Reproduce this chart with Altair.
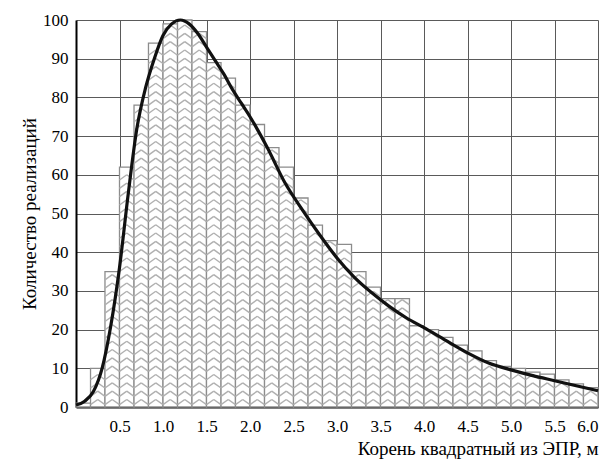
import altair as alt
import pandas as pd

# Histogram bins (width 1/6 m) and counts
bin_start = [0.000, 0.167, 0.333, 0.500, 0.667, 0.833, 1.000, 1.167, 1.333, 1.500, 1.667, 1.833,
             2.000, 2.167, 2.333, 2.500, 2.667, 2.833, 3.000, 3.167, 3.333, 3.500, 3.667, 3.833,
             4.000, 4.167, 4.333, 4.500, 4.667, 4.833, 5.000, 5.167, 5.333, 5.500, 5.667, 5.833]
bin_end = [0.167, 0.333, 0.500, 0.667, 0.833, 1.000, 1.167, 1.333, 1.500, 1.667, 1.833, 2.000,
           2.167, 2.333, 2.500, 2.667, 2.833, 3.000, 3.167, 3.333, 3.500, 3.667, 3.833, 4.000,
           4.167, 4.333, 4.500, 4.667, 4.833, 5.000, 5.167, 5.333, 5.500, 5.667, 5.833, 6.000]
counts = [1, 10, 35, 62, 78, 94, 99, 100, 97, 89, 85, 78,
          73, 67, 62, 54, 47, 43, 42, 35, 31, 28, 28, 21,
          20, 18, 16, 14.5, 12, 10.5, 10, 9, 8.5, 7, 6, 5]

# Smooth fitted curve
curve_x = [0.00, 0.10, 0.20, 0.30, 0.40, 0.50, 0.60, 0.70, 0.80, 0.90, 1.00, 1.10, 1.20,
           1.30, 1.40, 1.50, 1.60, 1.70, 1.80, 1.90, 2.00, 2.20, 2.40, 2.60, 2.80, 3.00,
           3.20, 3.40, 3.60, 3.80, 4.00, 4.25, 4.50, 4.75, 5.00, 5.25, 5.50, 5.75, 6.00]
curve_y = [0.5, 1.5, 4, 10, 21, 36, 55, 72, 82.5, 90, 96, 99, 100,
           99, 96.5, 93, 89.5, 86, 82, 78.5, 75, 67, 58, 51, 44.5, 38.5,
           33.5, 29.5, 26, 23, 20.5, 17.2, 14, 11.3, 9.6, 8.1, 6.8, 5.5, 4.2]

x_ticks = [0.5, 1.0, 1.5, 2.0, 2.5, 3.0, 3.5, 4.0, 4.5, 5.0, 5.5, 6.0]
y_ticks = [0, 10, 20, 30, 40, 50, 60, 70, 80, 90, 100]

x_title = "Корень квадратный из ЭПР, м"
y_title = "Количество реализаций"

FONT = "Liberation Serif, DejaVu Serif, serif"

bars_df = pd.DataFrame({"x0": bin_start, "x1": bin_end, "n": counts})
curve_df = pd.DataFrame({"x": curve_x, "y": curve_y})

xscale = alt.Scale(domain=[0, 6], nice=False, zero=False)
yscale = alt.Scale(domain=[0, 100], nice=False)

xaxis = alt.Axis(values=x_ticks, format=".1f", title=x_title, ticks=False, tickSize=0,
                 labelPadding=11, grid=True, titleAnchor="end", titlePadding=5)
yaxis = alt.Axis(values=y_ticks, title=y_title, ticks=False, tickSize=0,
                 labelPadding=8, grid=True, titlePadding=3)

base = alt.Chart(bars_df).transform_calculate(z="0")

rects = base.mark_rect(fill="white", stroke="#8c8c8c", strokeWidth=1.3).encode(
    x=alt.X("x0:Q", scale=xscale, axis=xaxis),
    x2="x1:Q",
    y=alt.Y("n:Q", scale=yscale, axis=yaxis),
    y2="z:Q",
)

hatch = base.transform_calculate(
    k="sequence(0.6, max(datum.n - 1.5, 0), 2.15)"
).transform_flatten(["k"]).transform_calculate(
    xm="(datum.x0 + datum.x1) / 2", kt="datum.k + 1.35"
)

left_arm = hatch.mark_rule(stroke="#b0b0b0", strokeWidth=1.4).encode(
    x=alt.X("x0:Q", scale=xscale, axis=xaxis),
    y=alt.Y("k:Q", scale=yscale, axis=yaxis),
    x2="xm:Q",
    y2="kt:Q",
)
right_arm = hatch.mark_rule(stroke="#b0b0b0", strokeWidth=1.4).encode(
    x=alt.X("xm:Q", scale=xscale, axis=xaxis),
    y=alt.Y("kt:Q", scale=yscale, axis=yaxis),
    x2="x1:Q",
    y2="k:Q",
)

curve = alt.Chart(curve_df).mark_line(color="#111111", strokeWidth=3.2, interpolate="monotone").encode(
    x=alt.X("x:Q", scale=xscale, axis=xaxis),
    y=alt.Y("y:Q", scale=yscale, axis=yaxis),
)

chart = alt.layer(rects, left_arm, right_arm, curve).properties(
    width=522,
    height=387,
    padding={"left": 76, "top": 20, "right": 16, "bottom": 58},
    autosize=alt.AutoSizeParams(type="none"),
    background="white",
).configure_axis(
    gridColor="#5a5a5a",
    gridWidth=1,
    gridOpacity=1,
    domainColor="black",
    domainWidth=2,
    labelFont=FONT,
    labelFontSize=17,
    labelColor="black",
    titleFont=FONT,
    titleFontSize=19,
    titleFontWeight="normal",
    titleColor="black",
).configure_view(stroke=None)

chart.save("out.html", embed_options={"renderer": "svg", "actions": False})
